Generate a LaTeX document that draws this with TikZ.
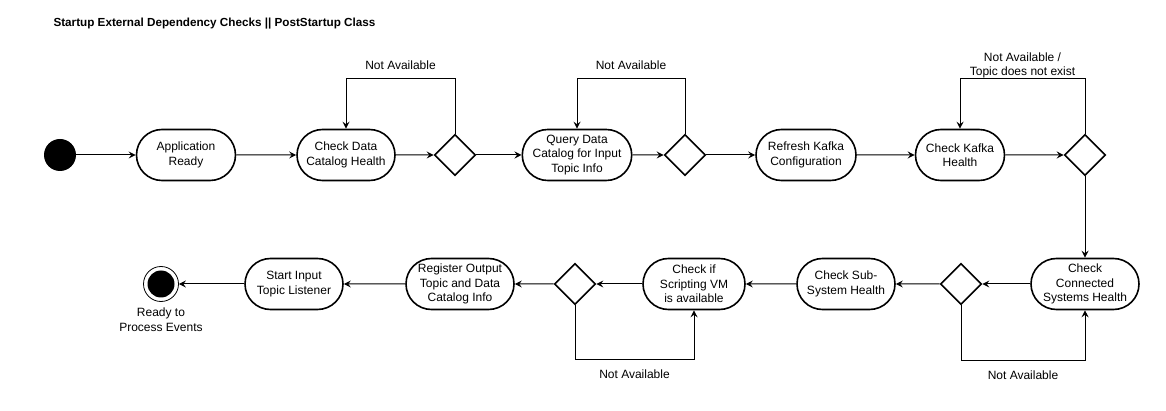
\documentclass[tikz,border=0pt]{standalone}
\usepackage{fontspec}
\setmainfont{Liberation Sans}
\usetikzlibrary{positioning}
\usetikzlibrary{shapes.misc, shapes.geometric, arrows.meta}

\tikzset{
  activity/.style={rounded rectangle,draw=black,line width=1.6pt,align=center,inner sep=1pt,
    font=\fontsize{12}{14.3}\selectfont,minimum height=51pt},
  decision/.style={diamond,draw=black,line width=1.6pt,minimum size=41pt,inner sep=0pt,aspect=1},
  flow/.style={draw=black,line width=1pt,-{Stealth[length=7pt,width=7pt,inset=2.5pt]}},
  guard/.style={font=\fontsize{12}{14.3}\selectfont,align=center,inner sep=2pt}
}

\begin{document}
\begin{tikzpicture}[x=1pt,y=-1pt]
\useasboundingbox (0,0) rectangle (1166,411);
\node[font=\fontsize{11.7}{14}\selectfont\bfseries,anchor=west] (title) at (50,24) {Startup External Dependency Checks || PostStartup Class};

% top row
\node[circle,fill=black,minimum size=32pt,inner sep=0pt] (start) at (60,155) {};
\node[activity,minimum width=101pt] (appready) at (186,155) {Application\\Ready};
\node[activity,minimum width=100pt] (dchealth) at (346,155) {Check Data\\Catalog Health};
\node[decision] (d1) at (455,155) {};
\node[activity,minimum width=101pt] (query) at (577,155) {Query Data\\Catalog for Input\\Topic Info};
\node[decision] (d2) at (685,155) {};
\node[activity,minimum width=102pt] (refresh) at (806,155) {Refresh Kafka\\Configuration};
\node[activity,minimum width=91pt] (kafka) at (960,155) {Check Kafka\\Health};
\node[decision] (d3) at (1085,155) {};

% bottom row
\node[activity,minimum width=110pt] (connected) at (1085,284) {Check\\Connected\\Systems Health};
\node[decision] (d4) at (961,284) {};
\node[activity,minimum width=100pt] (subsys) at (846,284) {Check Sub-\\System Health};
\node[activity,minimum width=104pt] (vm) at (694,284) {Check if\\Scripting VM\\is available};
\node[decision] (d5) at (575,284) {};
\node[activity,minimum width=110pt] (register) at (460,284) {Register Output\\Topic and Data\\Catalog Info};
\node[activity,minimum width=100pt] (listener) at (294,284) {Start Input\\Topic Listener};
\node[circle,draw=black,line width=0.8pt,minimum size=35pt,inner sep=0pt] (finish) at (161,284) {};
\node[circle,fill=black,minimum size=27pt,inner sep=0pt] (finishdot) at (finish.center) {};
\node[guard,below=4pt of finish] (readylabel) {Ready to\\Process Events};

\draw[flow] (start) -- (appready);
\draw[flow] (appready) -- (dchealth);
\draw[flow] (dchealth) -- (d1);
\draw[flow] (d1) -- (query);
\draw[flow] (query) -- (d2);
\draw[flow] (d2) -- (refresh);
\draw[flow] (refresh) -- (kafka);
\draw[flow] (kafka) -- (d3);
\draw[flow] (d3) -- (connected);
\draw[flow] (connected) -- (d4);
\draw[flow] (d4) -- (subsys);
\draw[flow] (subsys) -- (vm);
\draw[flow] (vm) -- (d5);
\draw[flow] (d5) -- (register);
\draw[flow] (register) -- (listener);
\draw[flow] (listener) -- (finish);

% retry loops
\draw[flow] (d1.north) -- ++(0,-55) -| node[guard,pos=0.25,above=7pt] (na1) {Not Available} (dchealth.north);
\draw[flow] (d2.north) -- ++(0,-55) -| node[guard,pos=0.25,above=7pt] (na2) {Not Available} (query.north);
\draw[flow] (d3.north) -- ++(0,-55) -| node[guard,pos=0.25,above=-2pt] (na3) {Not Available /\\Topic does not exist} (kafka.north);
\draw[flow] (d4.south) -- ++(0,55) -| node[guard,pos=0.25,below=8pt] (na4) {Not Available} (connected.south);
\draw[flow] (d5.south) -- ++(0,54) -| node[guard,pos=0.25,below=8pt] (na5) {Not Available} (vm.south);
\end{tikzpicture}
\end{document}
